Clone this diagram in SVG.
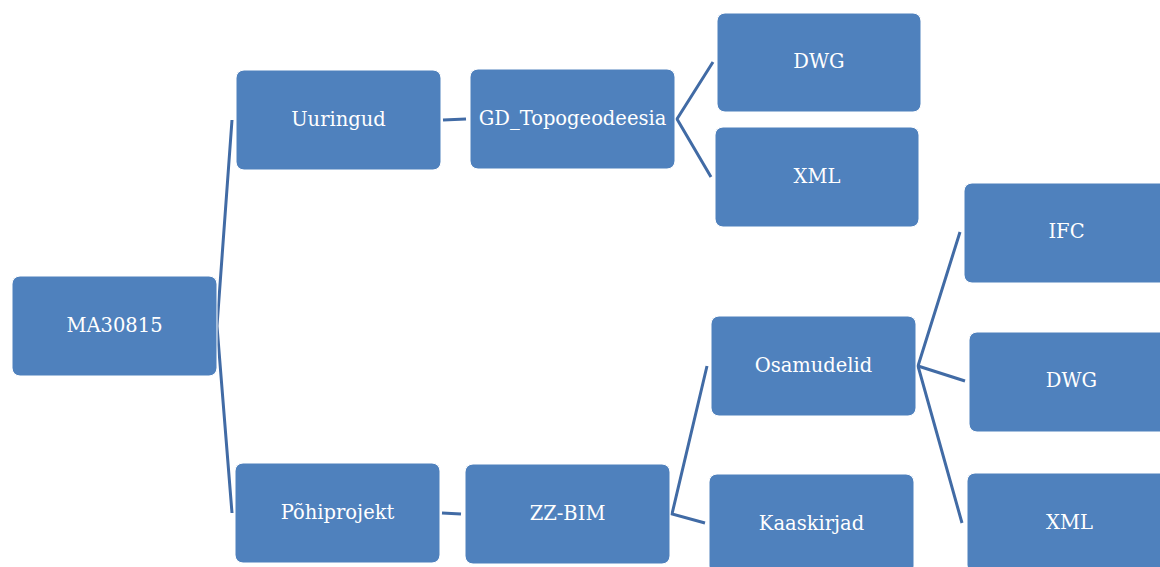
<svg xmlns="http://www.w3.org/2000/svg" width="1160" height="567" viewBox="0 0 1160 567">
<style>
.box{fill:#4F81BD;stroke:#FFFFFF;stroke-width:1}
.lbl{fill:#FFFFFF;font-family:"DejaVu Serif","Liberation Serif",serif;font-size:19.5px;text-anchor:middle}
.con{stroke:#416BA5;stroke-width:3;fill:none;stroke-linejoin:miter}
</style>
<rect width="1160" height="567" fill="#FFFFFF"/>
<g id="connectors">
<polyline class="con" points="232,120 217,326 232,513"/>
<line class="con" x1="443" y1="120" x2="466" y2="119"/>
<polyline class="con" points="713,62 677,119 711,177"/>
<line class="con" x1="442" y1="513" x2="461" y2="514"/>
<polyline class="con" points="707,366 672,514 705,523"/>
<polyline class="con" points="960,232 918,366 962,523"/>
<line class="con" x1="918" y1="366" x2="965" y2="381"/>
</g>
<g id="n-ma30815"><rect class="box" x="12" y="276" width="205" height="100" rx="8"/><text class="lbl" x="114.5" y="332">MA30815</text></g>
<g id="n-uuringud"><rect class="box" x="236" y="70" width="205" height="100" rx="8"/><text class="lbl" x="338.5" y="126">Uuringud</text></g>
<g id="n-gd"><rect class="box" x="470" y="69" width="205" height="100" rx="8"/><text class="lbl" x="572.5" y="125">GD_Topogeodeesia</text></g>
<g id="n-dwg1"><rect class="box" x="717" y="13" width="204" height="99" rx="8"/><text class="lbl" x="819" y="68">DWG</text></g>
<g id="n-xml1"><rect class="box" x="715" y="127" width="204" height="100" rx="8"/><text class="lbl" x="817" y="183">XML</text></g>
<g id="n-pohiprojekt"><rect class="box" x="235" y="463" width="205" height="100" rx="8"/><text class="lbl" x="337.5" y="519">Põhiprojekt</text></g>
<g id="n-zzbim"><rect class="box" x="465" y="464" width="205" height="100" rx="8"/><text class="lbl" x="567.5" y="520">ZZ-BIM</text></g>
<g id="n-osamudelid"><rect class="box" x="711" y="316" width="205" height="100" rx="8"/><text class="lbl" x="813.5" y="372">Osamudelid</text></g>
<g id="n-kaaskirjad"><rect class="box" x="709" y="474" width="205" height="100" rx="8"/><text class="lbl" x="811.5" y="530">Kaaskirjad</text></g>
<g id="n-ifc"><rect class="box" x="964" y="183" width="205" height="100" rx="8"/><text class="lbl" x="1066.5" y="238">IFC</text></g>
<g id="n-dwg2"><rect class="box" x="969" y="332" width="205" height="100" rx="8"/><text class="lbl" x="1071.5" y="387">DWG</text></g>
<g id="n-xml2"><rect class="box" x="967" y="473" width="205" height="100" rx="8"/><text class="lbl" x="1069.5" y="529">XML</text></g>
</svg>
